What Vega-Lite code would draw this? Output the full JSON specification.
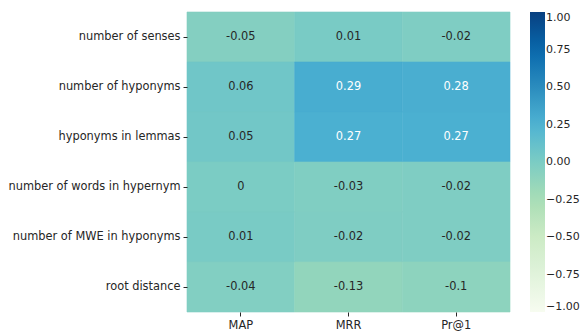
{
  "$schema": "https://vega.github.io/schema/vega-lite/v6.json",
  "autosize": {"type": "none"},
  "padding": {"left": 187, "top": 12, "right": 77, "bottom": 21},
  "width": 323,
  "height": 300,
  "config": {
    "font": "DejaVu Sans",
    "view": {"stroke": null},
    "legend": {"padding": 0},
    "axis": {"labelFont": "DejaVu Sans", "labelFontSize": 11.4, "labelColor": "#262626", "tickColor": "#262626", "tickSize": 4, "domain": false, "grid": false, "title": null, "labelPadding": 3}
  },
  "data": {
    "values": [
      {"feature": "number of senses", "metric": "MAP", "value": -0.05, "label": "-0.05"},
      {"feature": "number of senses", "metric": "MRR", "value": 0.01, "label": "0.01"},
      {"feature": "number of senses", "metric": "Pr@1", "value": -0.02, "label": "-0.02"},
      {"feature": "number of hyponyms", "metric": "MAP", "value": 0.06, "label": "0.06"},
      {"feature": "number of hyponyms", "metric": "MRR", "value": 0.29, "label": "0.29"},
      {"feature": "number of hyponyms", "metric": "Pr@1", "value": 0.28, "label": "0.28"},
      {"feature": "hyponyms in lemmas", "metric": "MAP", "value": 0.05, "label": "0.05"},
      {"feature": "hyponyms in lemmas", "metric": "MRR", "value": 0.27, "label": "0.27"},
      {"feature": "hyponyms in lemmas", "metric": "Pr@1", "value": 0.27, "label": "0.27"},
      {"feature": "number of words in hypernym", "metric": "MAP", "value": 0, "label": "0"},
      {"feature": "number of words in hypernym", "metric": "MRR", "value": -0.03, "label": "-0.03"},
      {"feature": "number of words in hypernym", "metric": "Pr@1", "value": -0.02, "label": "-0.02"},
      {"feature": "number of MWE in hyponyms", "metric": "MAP", "value": 0.01, "label": "0.01"},
      {"feature": "number of MWE in hyponyms", "metric": "MRR", "value": -0.02, "label": "-0.02"},
      {"feature": "number of MWE in hyponyms", "metric": "Pr@1", "value": -0.02, "label": "-0.02"},
      {"feature": "root distance", "metric": "MAP", "value": -0.04, "label": "-0.04"},
      {"feature": "root distance", "metric": "MRR", "value": -0.13, "label": "-0.13"},
      {"feature": "root distance", "metric": "Pr@1", "value": -0.1, "label": "-0.1"}
    ]
  },
  "encoding": {
    "x": {"field": "metric", "type": "nominal", "sort": ["MAP", "MRR", "Pr@1"], "scale": {"paddingInner": 0, "paddingOuter": 0}, "axis": {"labelAngle": 0}},
    "y": {"field": "feature", "type": "nominal", "sort": ["number of senses", "number of hyponyms", "hyponyms in lemmas", "number of words in hypernym", "number of MWE in hyponyms", "root distance"], "scale": {"paddingInner": 0, "paddingOuter": 0}}
  },
  "layer": [
    {
      "mark": {"type": "rect", "strokeWidth": 0.6, "stroke": {"expr": "scale('color', datum.value)"}},
      "encoding": {
        "color": {
          "field": "value", "type": "quantitative",
          "scale": {"domain": [-1, -0.75, -0.5, -0.25, 0, 0.25, 0.5, 0.75, 1], "range": ["#f7fcf0", "#e0f3db", "#ccebc5", "#a8ddb5", "#7bccc4", "#4eb3d3", "#2b8cbe", "#0868ac", "#084081"], "interpolate": "rgb"},
          "legend": {
            "type": "gradient",
            "title": null, "direction": "vertical", "gradientLength": 300, "gradientThickness": 15,
            "offset": 20, "values": [-1, -0.75, -0.5, -0.25, 0, 0.25, 0.5, 0.75, 1],
            "labelExpr": "replace(format(datum.value, '.2f'), '-', '−')",
            "labelFontSize": 11, "labelColor": "#262626", "labelFont": "DejaVu Sans", "labelOffset": 1,
            "gradientStrokeWidth": 0
          }
        }
      }
    },
    {
      "mark": {"type": "text", "fontSize": 11.4, "font": "DejaVu Sans"},
      "encoding": {
        "text": {"field": "label"},
        "color": {"condition": {"test": "datum.value > 0.2", "value": "white"}, "value": "#262626"}
      }
    }
  ]
}
